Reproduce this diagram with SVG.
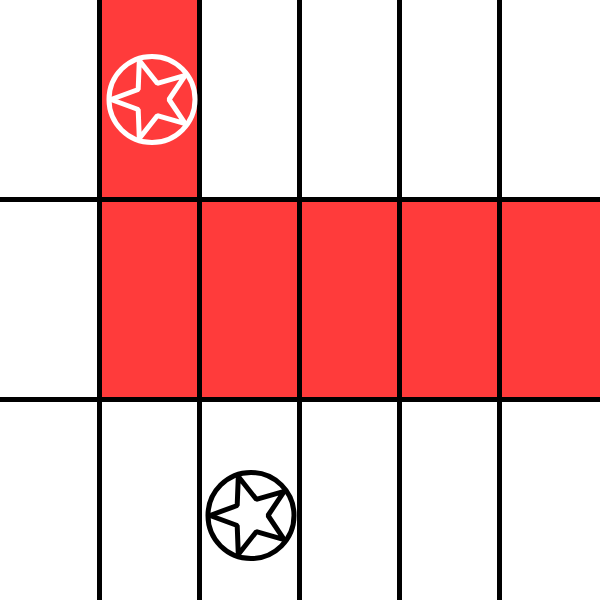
<svg xmlns="http://www.w3.org/2000/svg" width="600" height="600" viewBox="0 0 600 600">
<style>
.red{fill:#ff3b3b}
.grid line{stroke:#000;stroke-width:5}
.w{fill:none;stroke:#fff;stroke-width:5;stroke-linejoin:bevel}
.b{fill:none;stroke:#000;stroke-width:5;stroke-linejoin:bevel}
</style>
<defs>
<g id="star">
<circle cx="0" cy="0" r="43"/>
<polygon points="-41,0 -13.8,10 -12.7,39 5.3,16.2 33.2,24.1 17,0 33.2,-24.1 5.3,-16.2 -12.7,-39 -13.8,-10"/>
</g>
</defs>
<rect width="600" height="600" fill="#fff"/>
<rect class="red" x="100" y="0" width="100" height="200"/>
<rect class="red" x="100" y="200" width="500" height="200"/>
<g class="grid">
<line x1="99.5" y1="0" x2="99.5" y2="600"/>
<line x1="199.5" y1="0" x2="199.5" y2="600"/>
<line x1="299.5" y1="0" x2="299.5" y2="600"/>
<line x1="399.5" y1="0" x2="399.5" y2="600"/>
<line x1="499.5" y1="0" x2="499.5" y2="600"/>
<line x1="0" y1="199.5" x2="600" y2="199.5"/>
<line x1="0" y1="399.5" x2="600" y2="399.5"/>
</g>
<g id="star1" class="w"><use href="#star" x="152" y="99.5"/></g>
<g id="star2" class="b"><use href="#star" x="251" y="515.5"/></g>
</svg>
